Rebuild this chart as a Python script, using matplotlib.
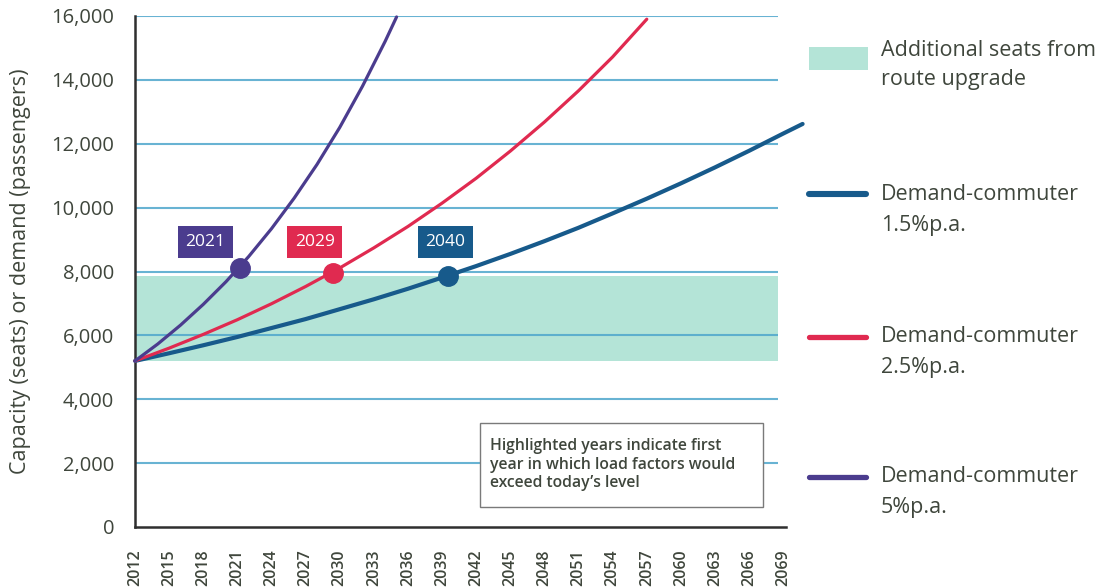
"""Capacity vs commuter demand growth, with the route-upgrade seat band."""

import matplotlib

matplotlib.use("Agg")
import matplotlib.pyplot as plt
from matplotlib.lines import Line2D
from matplotlib.patches import Rectangle

plt.rcParams["font.family"] = ["Open Sans", "DejaVu Sans"]

TEXT = "#3f463c"
BLUE = "#175a8b"
RED = "#e02a50"
PURPLE = "#4b3c8e"
BAND = "#b4e4d7"
GRID = "#4ea6cc"

# demand scenarios
years_15 = [2012, 2015, 2018, 2021, 2024, 2027, 2030, 2033, 2036, 2039, 2042,
            2045, 2048, 2051, 2054, 2057, 2060, 2063, 2066, 2069, 2070.7]
demand_15 = [5200, 5440, 5690, 5950, 6230, 6510, 6820, 7130, 7460, 7810, 8170,
             8550, 8950, 9370, 9820, 10280, 10760, 11260, 11780, 12320, 12620]

years_25 = [2012, 2015, 2018, 2021, 2024, 2027, 2030, 2033, 2036, 2039, 2042,
            2045, 2048, 2051, 2054, 2057]
demand_25 = [5200, 5600, 6030, 6490, 6990, 7530, 8110, 8740, 9410, 10140, 10920,
             11770, 12680, 13660, 14720, 15900]

years_5 = [2012, 2014, 2016, 2018, 2020, 2022, 2024, 2026, 2028, 2030, 2032,
           2034, 2035]
demand_5 = [5200, 5730, 6320, 6970, 7680, 8470, 9340, 10300, 11350, 12510,
            13800, 15210, 15970]

# seats band (today's capacity -> upgraded capacity)
band_years = [2012, 2068.5]
band_low = 5200
band_high = 7850

# first year load factors exceed today's level
hit_years = [2021.2, 2029.4, 2039.5]
hit_values = [8100, 7950, 7850]
hit_labels = ["2021", "2029", "2040"]
hit_label_years = [2018.2, 2027.8, 2039.3]
hit_label_value = 8920

gridlines = [2000, 4000, 6000, 8000, 10000, 12000, 14000, 16000]
xticks = list(range(2012, 2070, 3))
yticks = list(range(0, 16001, 2000))

legend_entries = [
    ("Demand-commuter", "1.5%p.a.", BLUE, 3.6),
    ("Demand-commuter", "2.5%p.a.", RED, 3.0),
    ("Demand-commuter", "5%p.a.", PURPLE, 3.0),
]

W, H = 1095, 588
fig = plt.figure(figsize=(W / 100, H / 100), dpi=100)
ax = fig.add_axes([135 / W, 61 / H, 671 / W, 511 / H])
ax.set_xlim(2012, 2071)
ax.set_ylim(0, 16000)

ax.fill_between(band_years, band_low, band_high, color=BAND, lw=0, zorder=1)
ax.hlines(gridlines, 2012, 2068.5, color=GRID, lw=1.5, alpha=0.85, zorder=1.5)

ax.plot(years_15, demand_15, color=BLUE, lw=3.0, clip_on=False, zorder=3,
        solid_capstyle="round", solid_joinstyle="round")
ax.plot(years_25, demand_25, color=RED, lw=2.3, clip_on=False, zorder=3,
        solid_capstyle="round", solid_joinstyle="round")
ax.plot(years_5, demand_5, color=PURPLE, lw=2.3, clip_on=False, zorder=3,
        solid_capstyle="round", solid_joinstyle="round")

for x, y, lab, lx, c in zip(hit_years, hit_values, hit_labels, hit_label_years,
                            [PURPLE, RED, BLUE]):
    ax.plot(x, y, "o", ms=14, color=c, zorder=4)
    ax.text(lx, hit_label_value, lab, ha="center", va="center", color="white",
            fontsize=12.5, zorder=5,
            bbox=dict(boxstyle="square,pad=0.45", fc=c, ec="none"))

# note box
ax.add_patch(Rectangle((2042.3, 626), 24.9, 2630, fc="white", ec="#7a7a7a",
                       lw=1.0, zorder=6))
ax.text(2043.2, 1950,
        "Highlighted years indicate first\nyear in which load factors would\n"
        "exceed today\u2019s level",
        ha="left", va="center", fontsize=11.3, fontweight="semibold",
        color=TEXT, linespacing=1.22, zorder=7)

for side in ("top", "right"):
    ax.spines[side].set_visible(False)
ax.spines["left"].set_color("#2f2f2f")
ax.spines["left"].set_linewidth(1.8)
ax.spines["bottom"].set_color("#2f2f2f")
ax.spines["bottom"].set_linewidth(1.8)
ax.spines["bottom"].set_bounds(2012, 2069.2)

ax.set_xticks(xticks)
ax.set_xticklabels([str(y) for y in xticks], rotation=90, fontsize=11.5,
                   fontweight="semibold", color=TEXT)
ax.set_yticks(yticks)
ax.set_yticklabels([f"{v:,}" for v in yticks], fontsize=14.5, color=TEXT)
ax.tick_params(axis="x", length=0, pad=16)
ax.tick_params(axis="y", length=0, pad=15)
ax.set_ylabel("Capacity (seats) or demand (passengers)", fontsize=15.5,
              color=TEXT)
ax.yaxis.set_label_coords(-104 / 671, 0.5)

# legend on the right, laid out by hand in figure pixels
def fy(py):
    return 1 - py / H

LEG_FS = 15.5
fig.patches.append(Rectangle((809 / W, fy(70)), 59 / W, 23 / H,
                             transform=fig.transFigure, fc=BAND, ec="none"))
fig.text(881 / W, fy(51), "Additional seats from", fontsize=LEG_FS, color=TEXT,
         va="center", ha="left")
fig.text(881 / W, fy(80), "route upgrade", fontsize=LEG_FS, color=TEXT,
         va="center", ha="left")

for (l1, l2, c, lw), py in zip(legend_entries, [194, 337, 477]):
    fig.lines.append(Line2D([809 / W, 866 / W], [fy(py), fy(py)], color=c,
                            lw=lw + 0.8, solid_capstyle="round",
                            transform=fig.transFigure))
    fig.text(881 / W, fy(py), l1, fontsize=LEG_FS, color=TEXT, va="center")
    fig.text(881 / W, fy(py + 31), l2, fontsize=LEG_FS, color=TEXT, va="center")

fig.savefig("out.png", dpi=100)
